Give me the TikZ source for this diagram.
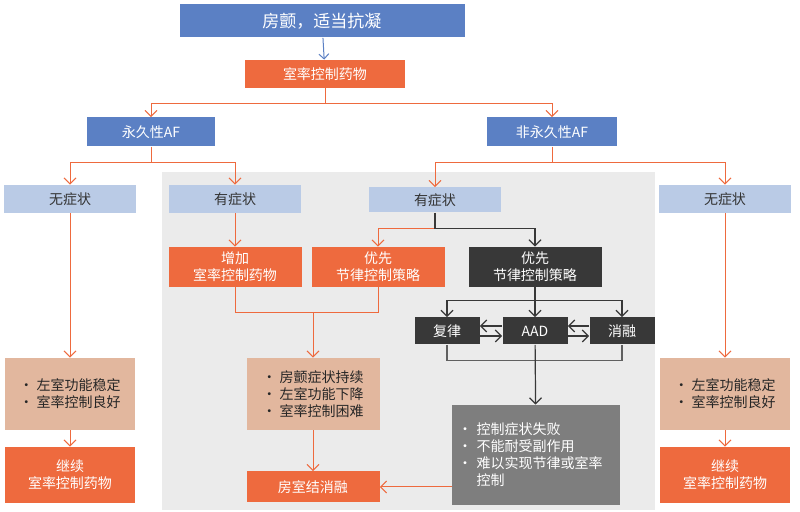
\documentclass[tikz,border=0pt]{standalone}
\usepackage{fontspec}
\setmainfont{Noto Sans CJK SC}
\usetikzlibrary{arrows.meta, positioning, calc}
\definecolor{ored}{HTML}{EE6A3E}
\definecolor{hblue}{HTML}{5B80C4}
\definecolor{lblue}{HTML}{BACBE6}
\definecolor{tan}{HTML}{E2B79E}
\definecolor{dark}{HTML}{383838}
\definecolor{mgray}{HTML}{7E7E7E}
\definecolor{bggray}{HTML}{EBEBEB}
\begin{document}
\begin{tikzpicture}[x=0.5pt, y=-0.5pt,
    % box styles
    box/.style={rectangle, inner sep=1pt, align=center, font=\fontsize{7}{8.5}\selectfont},
    headbox/.style={box, fill=hblue, text=white, minimum width=142.5pt, minimum height=16.5pt, font=\fontsize{8.5}{10}\selectfont},
    afbox/.style={box, fill=hblue, text=white, minimum width=64pt, minimum height=14.5pt},
    symbox/.style={box, fill=lblue, text=black!80, minimum width=66pt, minimum height=14pt},
    actbox/.style={box, fill=ored, text=white, minimum width=66.5pt, minimum height=20pt},
    darkbox/.style={box, fill=dark, text=white, minimum width=32.5pt, minimum height=13.5pt},
    tanbox/.style={box, fill=tan, text=black!85, align=left, minimum width=66.5pt, minimum height=36pt},
    % connector styles
    oarr/.style={draw=ored, -{Straight Barb[length=3pt]}, line width=0.5pt},
    oline/.style={draw=ored, line width=0.5pt},
    darr/.style={draw=dark, -{Straight Barb[length=3pt]}, line width=0.6pt},
    dline/.style={draw=dark, line width=0.6pt}
]
    \useasboundingbox (0,0) rectangle (800,512);
    \fill[white] (0,0) rectangle (800,512);
    \fill[bggray] (162,172) rectangle (655,510);

    % top
    \node[headbox] (top) at (322,21) {房颤，适当抗凝};
    \node[actbox, minimum width=80pt, minimum height=14pt] (rate) at (325,74) {室率控制药物};
    \node[afbox] (perm) at (151,132) {永久性AF};
    \node[afbox, minimum width=65pt] (nonperm) at (552,132) {非永久性AF};

    % symptom level
    \node[symbox] (asymL) at (70,199) {无症状};
    \node[symbox] (symL) at (235,199) {有症状};
    \node[symbox, minimum height=12.5pt] (symR) at (435,200) {有症状};
    \node[symbox] (asymR) at (725,199) {无症状};

    % strategies
    \node[actbox] (incr) at (235,267) {增加\\室率控制药物};
    \node[actbox] (prio) at (378,267) {优先\\节律控制策略};
    \node[actbox, fill=dark] (rhythm) at (535,267) {优先\\节律控制策略};
    \node[darkbox] (cardio) at (447,331) {复律};
    \node[darkbox] (aad) at (535,331) {AAD};
    \node[darkbox] (ablate) at (622,331) {消融};

    % outcomes
    \node[tanbox, minimum width=65pt] (stableL) at (70,394) {• 左室功能稳定\\• 室率控制良好};
    \node[tanbox, minimum width=65pt] (stableR) at (725,394) {• 左室功能稳定\\• 室率控制良好};
    \node[tanbox] (persist) at (313,394) {• 房颤症状持续\\• 左室功能下降\\• 室率控制困难};
    \node[box, fill=mgray, text=white, align=left, minimum width=84pt, minimum height=50pt, text width=78pt] (fail) at (536,455) {• 控制症状失败\\• 不能耐受副作用\\• 难以实现节律或室率\\\phantom{• }控制};
    \node[actbox, minimum width=65pt, minimum height=28pt] (contL) at (70,475) {继续\\室率控制药物};
    \node[actbox, minimum width=65pt, minimum height=28pt] (contR) at (725,475) {继续\\室率控制药物};
    \node[actbox, minimum height=15.5pt] (avn) at (313,487) {房室结消融};

    % connectors
    \draw[-{Straight Barb[length=2.5pt]}, draw=hblue, line width=0.5pt] (top) -- (rate);
    \draw[oarr] (rate.south) -- ++(0,15) -| (perm.north);
    \draw[oarr] (rate.south) -- ++(0,15) -| (nonperm.north);
    \draw[oarr] (perm.south) -- ++(0,16) -| (asymL.north);
    \draw[oarr] (perm.south) -- ++(0,16) -| (symL.north);
    \draw[oarr] (nonperm.south) -- ++(0,16) -| (symR.north);
    \draw[oarr] (nonperm.south) -- ++(0,16) -| (asymR.north);
    \draw[oarr] (asymL) -- (stableL);
    \draw[oarr] (asymR) -- (stableR);
    \draw[oarr] (stableL) -- (contL);
    \draw[oarr] (stableR) -- (contR);
    \draw[oarr] (symL) -- (incr);
    \draw[oarr] (symR.south) -- ++(0,16) -| (prio.north);
    \draw[darr] (symR.south) -- ++(0,16) -| (rhythm.north);
    \draw[oline] (incr.south) -- ++(0,25) -| (prio.south);
    \coordinate (merge) at (persist.north |- 0,312);
    \draw[oarr] (merge) -- (persist);
    \draw[oarr] (persist) -- (avn);
    \draw[darr] (rhythm.south) -- ++(0,13) -| (cardio.north);
    \draw[darr] (rhythm.south) -- ++(0,13) -| (ablate.north);
    \draw[darr] (rhythm) -- (aad);
    \draw[darr] ([yshift=2.5pt]aad.west) -- ([yshift=2.5pt]cardio.east);
    \draw[darr] ([yshift=-2.5pt]cardio.east) -- ([yshift=-2.5pt]aad.west);
    \draw[darr] ([yshift=2.5pt]ablate.west) -- ([yshift=2.5pt]aad.east);
    \draw[darr] ([yshift=-2.5pt]aad.east) -- ([yshift=-2.5pt]ablate.west);
    \draw[dline, draw=dark!80] (cardio.south) -- ++(0,16) -| (ablate.south);
    \draw[darr] (aad) -- (fail);
    \draw[oarr] (fail.west |- avn) -- (avn.east);
\end{tikzpicture}
\end{document}
